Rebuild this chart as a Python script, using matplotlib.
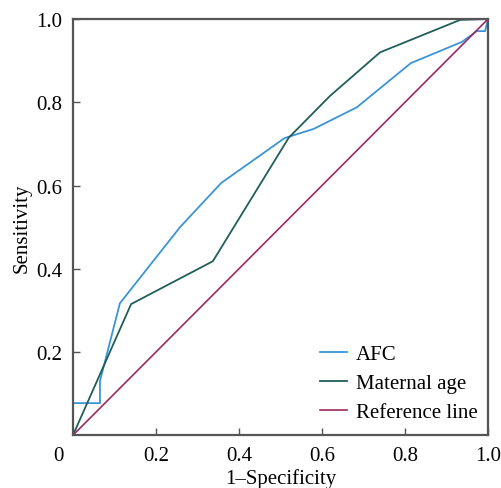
import matplotlib.pyplot as plt
from matplotlib.transforms import ScaledTranslation

# ROC curve points
afc_x = [0, 0, 0.065, 0.065, 0.113, 0.258, 0.357, 0.51, 0.58, 0.684, 0.814, 0.937, 0.973, 0.993, 1.0]
afc_y = [0, 0.077, 0.077, 0.13, 0.317, 0.5, 0.606, 0.714, 0.736, 0.788, 0.894, 0.945, 0.971, 0.971, 1.0]
age_x = [0, 0.14, 0.337, 0.52, 0.619, 0.74, 0.933, 1.0]
age_y = [0, 0.315, 0.418, 0.715, 0.815, 0.92, 0.998, 1.0]
ref_x = [0, 1]
ref_y = [0, 1]

xticks = [0, 0.2, 0.4, 0.6, 0.8, 1.0]
xticklabels = ['0', '0.2', '0.4', '0.6', '0.8', '1.0']
yticks = [0.2, 0.4, 0.6, 0.8, 1.0]
yticklabels = ['0.2', '0.4', '0.6', '0.8', '1.0']

plt.rcParams['font.family'] = ['Liberation Serif', 'DejaVu Serif']

fig = plt.figure(figsize=(5.01, 4.89), dpi=100)
ax = fig.add_axes([0.1457, 0.108, 0.8283, 0.851])

ax.plot(afc_x, afc_y, color='#3a95d6', lw=1.3, label='AFC')
ax.plot(age_x, age_y, color='#1f5e5a', lw=1.3, label='Maternal age')
ax.plot(ref_x, ref_y, color='#9e2a62', lw=1.2, label='Reference line')

ax.set_xlim(0, 1)
ax.set_ylim(0, 1)
ax.set_xticks(xticks)
ax.set_xticklabels(xticklabels)
ax.set_yticks(yticks)
ax.set_yticklabels(yticklabels)
ax.tick_params(direction='in', length=5, width=1, color='#555555', labelsize=15, pad=8)
# origin label sits left of the corner
lab0 = ax.get_xticklabels()[0]
lab0.set_transform(lab0.get_transform() + ScaledTranslation(-0.15, 0, fig.dpi_scale_trans))
for s in ax.spines.values():
    s.set_color('#555555')
    s.set_linewidth(1.6)

ax.set_xlabel('1–Specificity', fontsize=15, labelpad=2)
ax.set_ylabel('Sensitivity', fontsize=15, labelpad=3)

ax.legend(loc='lower right', bbox_to_anchor=(1.0, 0.007), frameon=False, fontsize=15,
          handlelength=1.3, handletextpad=0.4, labelspacing=0.45, borderaxespad=0.1)

fig.savefig('out.png', dpi=100)
